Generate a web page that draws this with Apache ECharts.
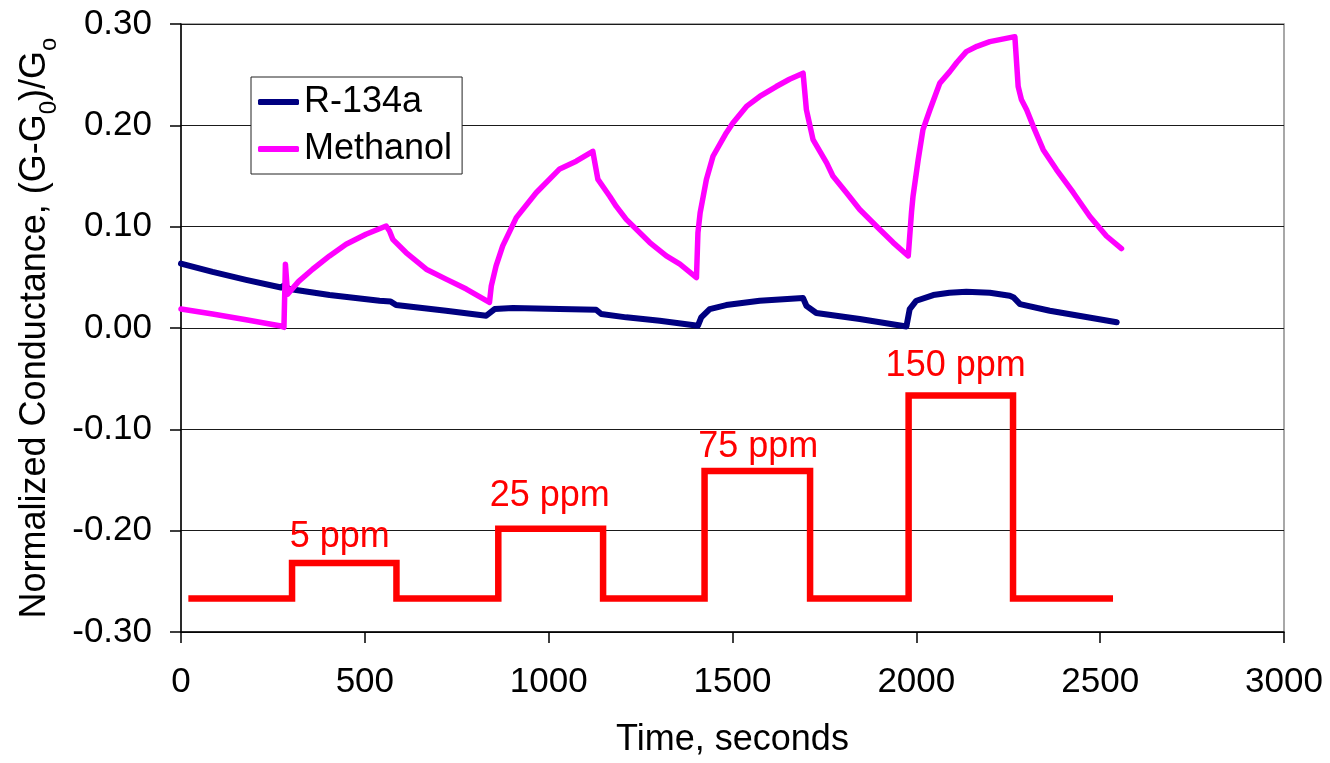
<!DOCTYPE html>
<html>
<head>
<meta charset="utf-8">
<script src="https://cdn.jsdelivr.net/npm/echarts@6/dist/echarts.min.js"></script>
<style>
  html, body { margin: 0; padding: 0; background: #fff; }
  #main { width: 1330px; height: 763px; }
</style>
</head>
<body>
<div id="main"></div>
<script>
// time (s) and normalized conductance
var r134aX = [0, 86, 177, 272, 280, 295, 404, 540, 570, 585, 721, 830, 853, 903, 1030, 1129, 1143, 1211, 1302, 1406,
  1415, 1438, 1483, 1574, 1692, 1701, 1728, 1846, 1973, 1982, 2000, 2046, 2090, 2136, 2200, 2254, 2265, 2282, 2363, 2545]
var r134aY = [0.0636, 0.0554, 0.0475, 0.0400, 0.0420, 0.0384, 0.0325, 0.0269, 0.0262, 0.0226, 0.0170, 0.0121, 0.0187, 0.0197, 0.0187, 0.0180, 0.0138, 0.0105, 0.0072, 0.0023,
  0.0105, 0.0187, 0.0226, 0.0269, 0.0295, 0.0219, 0.0148, 0.0089, 0.0015, 0.0187, 0.0269, 0.0325, 0.0347, 0.0357, 0.0347, 0.0318, 0.0300, 0.0236, 0.0170, 0.0056]

var methanolX = [0, 86, 177, 268, 280, 284, 290, 320, 358, 404, 449, 503, 558,
  567, 576, 612, 667, 721, 776, 839,
  844, 857, 875, 912, 966, 1030, 1075, 1120,
  1129, 1134, 1166, 1184, 1211, 1275, 1320, 1357, 1402,
  1406, 1412, 1429, 1447, 1483, 1501, 1538, 1574, 1619, 1655, 1692,
  1701, 1705, 1719, 1756, 1773, 1810, 1846, 1900, 1937, 1978,
  1987, 1991, 2005, 2018, 2037, 2064, 2091, 2110, 2136, 2165, 2200, 2268,
  2277, 2286, 2300, 2318, 2345, 2381, 2427, 2472, 2517, 2558]
var methanolY = [0.0187, 0.0138, 0.0082, 0.0023, 0.0007, 0.0630, 0.0334, 0.0460, 0.0580, 0.0711, 0.0826, 0.0925, 0.1006,
  0.0957, 0.0875, 0.0745, 0.0580, 0.0482, 0.0384, 0.0253,
  0.0416, 0.0613, 0.0810, 0.1089, 0.1335, 0.1570, 0.1646, 0.1744,
  0.1564, 0.1466, 0.1300, 0.1200, 0.1072, 0.0843, 0.0711, 0.0630, 0.0498,
  0.0940, 0.1138, 0.1466, 0.1695, 0.1925, 0.2023, 0.2187, 0.2285, 0.2383, 0.2455, 0.2515,
  0.2154, 0.2088, 0.1860, 0.1630, 0.1500, 0.1335, 0.1170, 0.0974, 0.0843, 0.0711,
  0.1150, 0.1300, 0.1660, 0.1957, 0.2154, 0.2417, 0.2530, 0.2620, 0.2727, 0.2780, 0.2826, 0.2875,
  0.2383, 0.2252, 0.2154, 0.1990, 0.1760, 0.1564, 0.1335, 0.1100, 0.0908, 0.0784]

// gas exposure steps (red trace)
var stepX = [20, 302, 302, 586, 586, 863, 863, 1148, 1148, 1424, 1424, 1711, 1711, 1979, 1979, 2263, 2263, 2535]
var stepY = [-0.267, -0.267, -0.232, -0.232, -0.267, -0.267, -0.198, -0.198, -0.267, -0.267, -0.141, -0.141, -0.267, -0.267, -0.0666, -0.0666, -0.267, -0.267]

var ppmText = ['5 ppm', '25 ppm', '75 ppm', '150 ppm']
var ppmX = [432, 1003, 1570, 2107]
var ppmY = [-0.2065, -0.166, -0.1174, -0.0374]

function pairs (xs, ys) {
  var out = []
  for (var i = 0; i < xs.length; i++) out.push([xs[i], ys[i]])
  return out
}

var ppmData = []
for (var i = 0; i < ppmText.length; i++) {
  ppmData.push({ name: ppmText[i], value: [ppmX[i], ppmY[i]] })
}

var font = 'Liberation Sans, Arial, sans-serif'
var chart = echarts.init(document.getElementById('main'))

chart.setOption({
  animation: false,
  backgroundColor: '#fff',
  textStyle: { fontFamily: font },
  grid: {
    left: 181, top: 24, width: 1103, height: 610,
    show: true, borderColor: '#8c8c8c', borderWidth: 1.5, backgroundColor: 'transparent'
  },
  legend: {
    data: ['R-134a', 'Methanol'],
    orient: 'vertical',
    left: 251, top: 77,
    padding: [5, 10, 5, 7],
    itemGap: 7,
    itemWidth: 41,
    itemHeight: 6,
    icon: 'roundRect',
    backgroundColor: '#fff',
    borderColor: '#222',
    borderWidth: 1,
    textStyle: { fontSize: 36, color: '#000', fontFamily: font, lineHeight: 40 }
  },
  xAxis: {
    type: 'value',
    min: 0, max: 3000, interval: 500,
    name: 'Time, seconds',
    nameLocation: 'middle',
    nameGap: 90,
    nameTextStyle: { fontSize: 36, color: '#000', fontFamily: font },
    axisLine: { show: true, onZero: false, lineStyle: { color: '#000', width: 1.5 } },
    axisTick: { show: true, inside: false, length: 11, lineStyle: { color: '#000', width: 1.5 } },
    axisLabel: {
      fontSize: 35, color: '#000', margin: 33, fontFamily: font,
      formatter: function (v) { return String(v) }
    },
    splitLine: { show: false }
  },
  yAxis: {
    type: 'value',
    min: -0.3, max: 0.3, interval: 0.1,
    name: '{a|Normalized Conductance, (G-G}{s|0}{a|)/G}{s|o}',
    nameLocation: 'middle',
    nameRotate: 90,
    nameGap: 128,
    nameTextStyle: {
      color: '#000',
      rich: {
        a: { fontSize: 36, fontFamily: font, color: '#000', lineHeight: 40, verticalAlign: 'bottom' },
        s: { fontSize: 24, fontFamily: font, color: '#000', lineHeight: 40, verticalAlign: 'bottom', padding: [0, 0, -8, 0] }
      }
    },
    axisLine: { show: true, onZero: false, lineStyle: { color: '#000', width: 1.5 } },
    axisTick: { show: true, inside: false, length: 11, lineStyle: { color: '#000', width: 1.5 } },
    axisLabel: {
      fontSize: 35, color: '#000', margin: 29, fontFamily: font,
      formatter: function (v) { return v.toFixed(2) }
    },
    splitLine: { show: true, lineStyle: { color: '#1a1a1a', width: 1.2 } }
  },
  series: [
    {
      name: 'Exposure',
      type: 'line',
      data: pairs(stepX, stepY),
      showSymbol: false,
      lineStyle: { color: '#ff0000', width: 6.5, join: 'miter' },
      itemStyle: { color: '#ff0000' },
      z: 2
    },
    {
      name: 'R-134a',
      type: 'line',
      data: pairs(r134aX, r134aY),
      showSymbol: false,
      lineStyle: { color: '#000080', width: 6, join: 'round', cap: 'round' },
      itemStyle: { color: '#000080' },
      z: 3
    },
    {
      name: 'Methanol',
      type: 'line',
      data: pairs(methanolX, methanolY),
      showSymbol: false,
      lineStyle: { color: '#ff00ff', width: 5.5, join: 'round', cap: 'round' },
      itemStyle: { color: '#ff00ff' },
      z: 4
    },
    {
      name: 'ppm',
      type: 'scatter',
      data: ppmData,
      symbolSize: 0,
      silent: true,
      itemStyle: { opacity: 1 },
      label: {
        show: true,
        position: 'inside',
        formatter: '{b}',
        fontSize: 36,
        color: '#ff0000',
        fontFamily: font
      }
    }
  ]
})
</script>
</body>
</html>
